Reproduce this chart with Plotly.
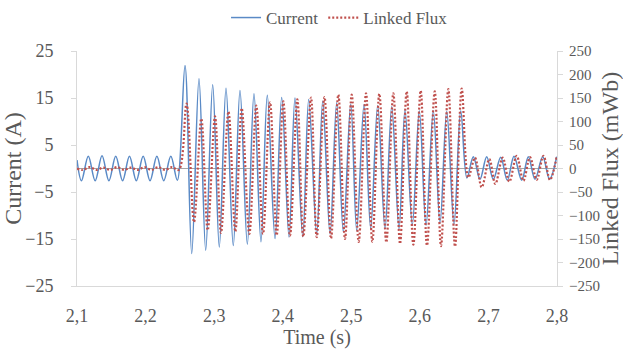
import plotly.graph_objects as go

# ---- Current (A): extrema (time s, value A) ----
current_t = [2.1000, 2.1065, 2.1165, 2.1265, 2.1365, 2.1465, 2.1565, 2.1665, 2.1765,
             2.1865, 2.1965, 2.2065, 2.2165, 2.2265, 2.2368, 2.2463,
             2.2575, 2.2673, 2.2779, 2.2877, 2.2979, 2.3075, 2.3173, 2.3279, 2.3377,
             2.3484, 2.3581, 2.3683, 2.3775, 2.3888, 2.3985, 2.4092, 2.4179, 2.4292,
             2.4379, 2.4496, 2.4583, 2.4690, 2.4787, 2.4884, 2.4992, 2.5079, 2.5186,
             2.5283, 2.5385, 2.5492, 2.5590, 2.5696, 2.5783, 2.5890, 2.5992, 2.6090,
             2.6196, 2.6294, 2.6392, 2.6498, 2.6596,
             2.6686, 2.6780, 2.6877, 2.6975, 2.7071, 2.7179, 2.7275, 2.7373, 2.7485,
             2.7582, 2.7679, 2.7792, 2.7891, 2.7996]
current_v = [1.8, -2.6, 2.6, -2.6, 2.7, -2.6, 2.6, -2.6, 2.6,
             -2.6, 2.6, -2.6, 2.6, -2.6, 2.6, -2.5,
             21.9, -18.1, 19.1, -17.4, 17.8, -16.7, 17.1, -16.4, 16.6,
             -16.1, 15.9, -15.6, 15.6, -14.9, 15.1, -14.6, 15.0, -14.5,
             14.7, -14.0, 14.3, -13.9, 14.0, -13.5, 13.7, -13.2, 13.6,
             -12.8, 13.4, -12.8, 13.2, -12.8, 12.5, -12.0, 12.3, -12.1,
             12.3, -11.6, 12.2, -11.8, 12.3,
             -2.0, 2.5, -2.3, 2.5, -2.3, 2.4, -2.5, 2.6, -2.5,
             2.5, -2.3, 2.5, -2.3, 2.5]

# ---- Linked flux (mWb): extrema ----
flux_t = [2.1000, 2.1085, 2.1185, 2.1285, 2.1385, 2.1485, 2.1585, 2.1685, 2.1785,
          2.1885, 2.1985, 2.2085, 2.2185, 2.2285, 2.2385, 2.2485,
          2.2597, 2.2706, 2.2813, 2.2906, 2.3013, 2.3100, 2.3209, 2.3309, 2.3402,
          2.3513, 2.3615, 2.3713, 2.3815, 2.3912, 2.4009, 2.4106, 2.4213, 2.4300,
          2.4413, 2.4496, 2.4609, 2.4704, 2.4811, 2.4908, 2.5006, 2.5108, 2.5215,
          2.5307, 2.5409, 2.5511, 2.5613, 2.5711, 2.5808, 2.5905, 2.6012, 2.6104,
          2.6217, 2.6308, 2.6415, 2.6513, 2.6610,
          2.6707, 2.6804, 2.6902, 2.7013, 2.7101, 2.7208, 2.7305, 2.7412, 2.7510,
          2.7606, 2.7704, 2.7803, 2.7898, 2.7996]
flux_v = [0, -3, 3, -3, 2, -3, 3, -3, 2,
          -3, 3, -3, 3, -3, 3, -3,
          138, -114, 106, -131, 111, -137, 121, -134, 128,
          -139, 134, -139, 141, -142, 143, -143, 147, -145,
          151, -146, 152, -149, 157, -150, 157, -156, 160,
          -156, 159, -157, 160, -160, 164, -162, 166, -164,
          164, -165, 169, -166, 170,
          -19, 23, -40, 20, -33, 23, -28, 27, -26,
          24, -24, 27, -24, 26]

# ---- axis ticks ----
x_ticks = [2.1, 2.2, 2.3, 2.4, 2.5, 2.6, 2.7, 2.8]
x_ticktext = ["2,1", "2,2", "2,3", "2,4", "2,5", "2,6", "2,7", "2,8"]
y1_ticks = [-25, -15, -5, 5, 15, 25]
y1_grid = [-5, 15]
y2_ticks = [-250, -200, -150, -100, -50, 0, 50, 100, 150, 200, 250]

FONT = "Liberation Serif"
GREY = "#595959"
AXC = "#D9D9D9"

fig = go.Figure()
fig.add_trace(go.Scatter(x=current_t, y=current_v, name="Current", mode="lines",
                         line=dict(color="#5A8AC6", width=1.5, shape="spline", smoothing=1.0),
                         yaxis="y"))
fig.add_trace(go.Scatter(x=flux_t, y=flux_v, name="Linked Flux", mode="lines",
                         line=dict(color="#C0504D", width=2.2, dash="2px,2px",
                                   shape="spline", smoothing=1.0),
                         yaxis="y2"))

fig.update_layout(
    width=623, height=354,
    margin=dict(l=77, r=66, t=51, b=68, autoexpand=False),
    paper_bgcolor="white", plot_bgcolor="white",
    separators=", ",
    font=dict(family=FONT, color=GREY, size=14),
    showlegend=True,
    legend=dict(orientation="h", xref="container", yref="container",
                x=0.545, xanchor="center", y=1.0, yanchor="top",
                font=dict(size=17, color=GREY, family=FONT),
                bgcolor="rgba(0,0,0,0)", tracegroupgap=0),
    xaxis=dict(range=[2.1, 2.8], tickvals=x_ticks, ticktext=x_ticktext,
               showgrid=False, zeroline=False, showline=True, linecolor=AXC,
               linewidth=1, ticks="", ticklabelstandoff=13, automargin=False,
               tickfont=dict(size=18, family=FONT, color=GREY),
               title=dict(text="Time (s)", font=dict(size=20, family=FONT, color=GREY),
                          standoff=3)),
    yaxis=dict(range=[-25, 25], tickvals=y1_ticks, showgrid=False,
               zeroline=True, zerolinecolor="#A6A6A6", zerolinewidth=1,
               showline=True, linecolor=AXC, linewidth=1, automargin=False,
               ticks="outside", ticklen=5, tickcolor=AXC, ticklabelstandoff=14,
               tickfont=dict(size=18, family=FONT, color=GREY),
               title=dict(text="Current (A)", font=dict(size=24, family=FONT, color=GREY),
                          standoff=5)),
    yaxis2=dict(range=[-250, 250], tickvals=y2_ticks, overlaying="y", side="right",
                showgrid=False, zeroline=False, showline=True, linecolor=AXC,
                linewidth=1, ticks="outside", ticklen=5, tickcolor=AXC,
                ticklabelstandoff=3, automargin=False,
                tickfont=dict(size=15, family=FONT, color=GREY),
                title=dict(text="Linked Flux (mWb)", font=dict(size=24, family=FONT, color=GREY),
                           standoff=4)),
    yaxis3=dict(range=[-25, 25], tickvals=y1_grid, overlaying="y", showgrid=True,
                gridcolor=AXC, gridwidth=1, showticklabels=False, zeroline=False,
                showline=False, ticks="", automargin=False),
)

fig.write_html("out.html")
